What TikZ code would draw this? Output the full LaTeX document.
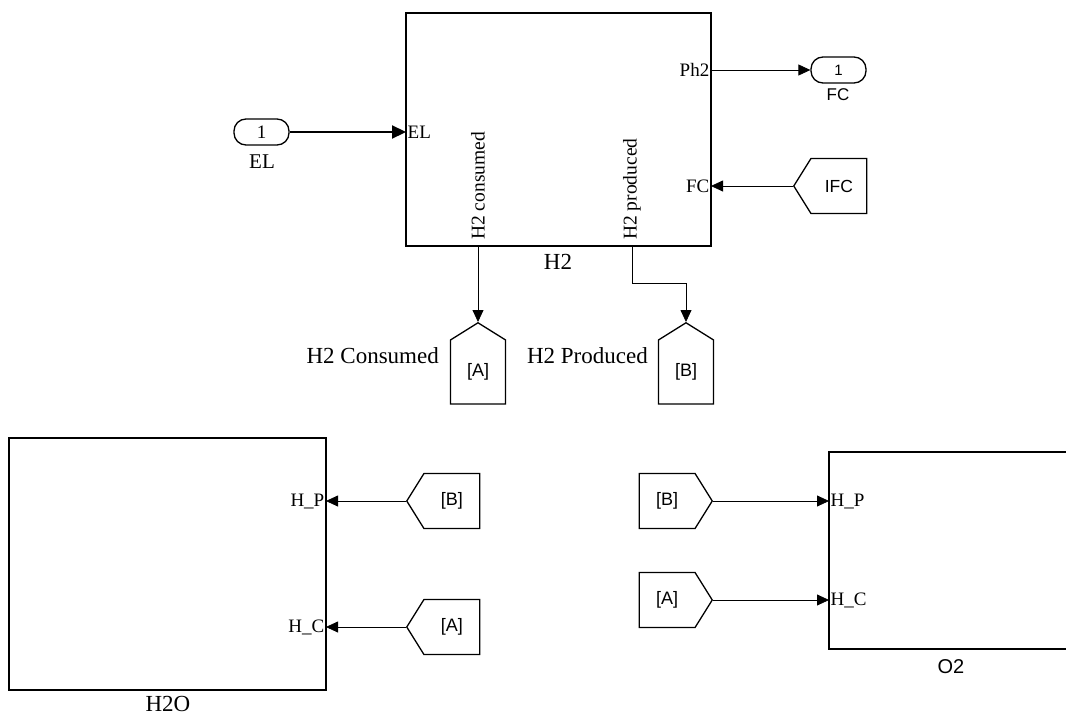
\documentclass[tikz,border=0pt]{standalone}
\usepackage{fontspec}
\setmainfont{Liberation Serif}
\newfontfamily\helv{Liberation Sans}
\usetikzlibrary{arrows.meta,positioning,shapes.symbols}

\begin{document}
\begin{tikzpicture}[x=1pt, y=-1pt, >={Triangle[length=12pt, width=11pt]},
  blk/.style={draw, line width=1.5pt, inner sep=0pt},
  wire/.style={->, line width=0.8pt},
  port/.style={font=\fontsize{19}{19}\selectfont, inner sep=1.5pt},
  vport/.style={font=\fontsize{19.5}{19.5}\selectfont, inner sep=0pt, rotate=90, anchor=west},
  title/.style={font=\fontsize{23}{23}\selectfont, inner sep=0pt},
  sflab/.style={font=\helv\fontsize{17}{17}\selectfont, inner sep=0pt},
  ioport/.style={draw, line width=1.3pt, rounded corners=12pt, minimum width=55pt, minimum height=26pt, inner sep=0pt},
  tag/.style={draw, line width=1.3pt, shape=signal, signal pointer angle=116, inner sep=0pt,
    font=\helv\fontsize{18}{18}\selectfont}]
  \useasboundingbox (0,0) rectangle (1066,715);
  \clip (0,0) rectangle (1066,715);

  % H2 subsystem
  \node[blk, minimum width=305pt, minimum height=233pt] (h2) at (558.5,129.5) {};
  \node[title] (h2name) at (558,262) {H2};
  \coordinate (h2el) at (406,132);
  \coordinate (h2ph) at (711,70);
  \coordinate (h2fc) at (711,186);
  \coordinate (h2c) at (478,246);
  \coordinate (h2p) at (632,246);
  \node[port, anchor=west] (lel) at (h2el) {EL};
  \node[port, anchor=east] (lph) at (h2ph) {Ph2};
  \node[port, anchor=east] (lfc) at (h2fc) {FC};
  \node[vport] (lcons) at (478,240) {H2 consumed};
  \node[vport] (lprod) at (632,240) {H2 produced};

  % In / out ports
  \node[ioport, font=\fontsize{19}{19}\selectfont] (elin) at (261.5,132) {1};
  \node[title, font=\fontsize{21}{21}\selectfont] (elname) at (262,162) {EL};
  \node[ioport, font=\helv\fontsize{15}{15}\selectfont] (fcout) at (838.5,70) {1};
  \node[sflab] (fcname) at (838,95) {FC};
  \node[tag, signal to=west, minimum width=73pt, minimum height=55pt, font=\helv\fontsize{17.5}{17.5}\selectfont,
    anchor=west] (ifc) at (793,186) {IFC};

  % Goto tags
  \node[tag, signal to=north, minimum width=55pt, minimum height=71pt, anchor=north] (gA) at (478,322) {[A]};
  \node[tag, signal to=north, minimum width=55pt, minimum height=71pt, anchor=north] (gB) at (686,322) {[B]};
  \node[title, anchor=east] (lgA) at (439,356) {H2 Consumed};
  \node[title, anchor=east] (lgB) at (648,356) {H2 Produced};

  % Connections of H2
  \draw[-{Triangle[length=14pt, width=13pt]}, line width=2.2pt] (elin) -- (h2el);
  \draw[wire] (h2ph) -- (fcout);
  \draw[wire] (ifc.west) -- (h2fc);
  \draw[wire] (h2c) -- (gA.north);
  \draw[wire] (h2p) -- ++(0,37) -| (gB.north);

  % H2O subsystem
  \node[blk, minimum width=317pt, minimum height=252pt] (h2o) at (167.5,564) {};
  \node[title] (h2oname) at (168,704) {H2O};
  \coordinate (h2ohp) at (326,501);
  \coordinate (h2ohc) at (326,627);
  \node[port, anchor=east] at (h2ohp) {H\_P};
  \node[port, anchor=east] at (h2ohc) {H\_C};
  \node[tag, signal to=west, minimum width=73pt, minimum height=55pt, anchor=west] (fB1) at (406,501) {[B]};
  \node[tag, signal to=west, minimum width=73pt, minimum height=55pt, anchor=west] (fA1) at (406,627) {[A]};
  \draw[wire] (fB1.west) -- (h2ohp);
  \draw[wire] (fA1.west) -- (h2ohc);

  % O2 subsystem
  \node[blk, minimum width=244pt, minimum height=197pt] (o2) at (951,550.5) {};
  \node[sflab, font=\helv\fontsize{20}{20}\selectfont] (o2name) at (951,667) {O2};
  \coordinate (o2hp) at (829,501);
  \coordinate (o2hc) at (829,600);
  \node[port, anchor=west] at (o2hp) {H\_P};
  \node[port, anchor=west] at (o2hc) {H\_C};
  \node[tag, signal to=east, minimum width=73pt, minimum height=55pt, anchor=east] (fB2) at (713,501) {[B]};
  \node[tag, signal to=east, minimum width=73pt, minimum height=55pt, anchor=east] (fA2) at (713,600) {[A]};
  \draw[wire] (fB2.east) -- (o2hp);
  \draw[wire] (fA2.east) -- (o2hc);
\end{tikzpicture}
\end{document}
